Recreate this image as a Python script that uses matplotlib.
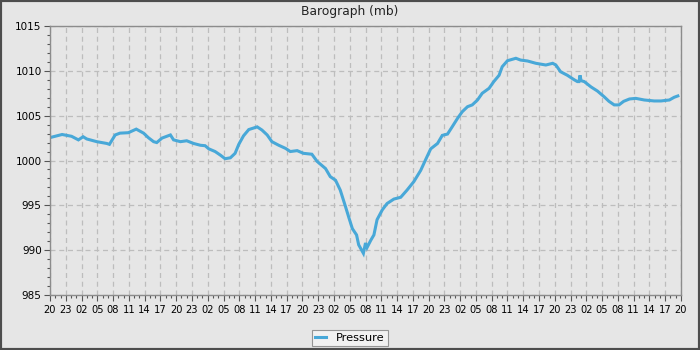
import matplotlib
matplotlib.use("Agg")
import matplotlib.pyplot as plt
from matplotlib.patches import Rectangle

# ---- data (hours since first 20:00 tick, pressure in mb) ----
hours = [0.3, 2.3, 4.1, 5.4, 6.3, 7.0, 8.9, 10.8, 11.3, 12.4, 13.3, 14.9, 16.4,
         17.8, 18.7, 19.7, 20.3, 21.3, 22.9, 23.5, 24.8, 26.0, 27.3, 28.6, 29.5,
         30.2, 31.4, 32.4, 33.3, 34.3, 35.2, 35.9, 36.8, 37.8, 39.4, 40.3, 41.3,
         42.2, 43.5, 44.8, 45.7, 47.0, 48.2, 49.8, 50.8, 52.4, 53.3, 54.3, 55.2,
         56.2, 56.8, 57.5, 58.3, 58.7, 59.6, 60.0, 60.3, 61.0, 61.6, 62.2, 63.2,
         64.1, 65.4, 66.7, 67.9, 69.2, 70.5, 71.4, 72.4, 73.7, 74.6, 75.6, 76.5,
         77.5, 78.4, 79.4, 80.3, 81.3, 82.2, 83.5, 84.4, 85.4, 86.0, 87.0, 88.6,
         89.5, 90.8, 92.4, 94.3, 95.6, 96.2, 97.1, 98.4, 99.7, 100.3, 100.6, 100.8,
         101.0, 101.6, 102.9, 104.1, 105.4, 106.3, 107.3, 108.2, 109.1, 110.2,
         111.4, 113.0, 114.9, 116.2, 117.8, 118.7, 119.4]
pressure = [1002.6, 1002.9, 1002.7, 1002.3, 1002.65, 1002.4, 1002.1, 1001.9, 1001.8,
            1002.85, 1003.05, 1003.1, 1003.5, 1003.05, 1002.55, 1002.1, 1002.0,
            1002.5, 1002.85, 1002.3, 1002.1, 1002.2, 1001.9, 1001.7, 1001.65,
            1001.3, 1001.0, 1000.6, 1000.2, 1000.3, 1000.8, 1001.8, 1002.75,
            1003.45, 1003.75, 1003.4, 1002.85, 1002.1, 1001.7, 1001.35, 1001.0,
            1001.1, 1000.8, 1000.7, 999.9, 999.1, 998.2, 997.8, 996.7, 994.85,
            993.7, 992.4, 991.7, 990.6, 989.65, 990.8, 990.3, 991.1, 991.7, 993.4,
            994.5, 995.2, 995.7, 995.9, 996.7, 997.65, 998.9, 1000.05, 1001.3,
            1001.9, 1002.8, 1002.95, 1003.77, 1004.7, 1005.44, 1006.0, 1006.2,
            1006.75, 1007.5, 1008.05, 1008.8, 1009.5, 1010.46, 1011.13, 1011.4,
            1011.2, 1011.1, 1010.84, 1010.65, 1010.84, 1010.65, 1009.9, 1009.5,
            1009.0, 1008.8, 1008.8, 1009.5, 1008.9, 1008.8, 1008.2, 1007.75,
            1007.1, 1006.6, 1006.2, 1006.2, 1006.6, 1006.86, 1006.93, 1006.75,
            1006.64, 1006.64, 1006.75, 1007.05, 1007.2]

tick_labels = ["20", "23", "02", "05", "08", "11", "14", "17"] * 5 + ["20"]
tick_hours = [3 * i for i in range(len(tick_labels))]
y_ticks = [985, 990, 995, 1000, 1005, 1010, 1015]

bg = "#e6e6e6"
fig = plt.figure(figsize=(7, 3.5), dpi=100, facecolor=bg)
ax = fig.add_axes([50 / 700, 1 - 295 / 350, 631 / 700, 269 / 350], facecolor=bg)

ax.plot(hours, pressure, color="#48a8d8", lw=2.2, label="Pressure",
        solid_joinstyle="miter")

ax.set_xlim(0, 120)
ax.set_ylim(985, 1015)
ax.set_xticks(tick_hours)
ax.set_xticklabels(tick_labels, fontsize=7.1)
ax.set_xticks(range(0, 121), minor=True)
ax.set_yticks(y_ticks)
ax.set_yticklabels([str(v) for v in y_ticks], fontsize=7.5)
ax.set_yticks(range(985, 1016), minor=True)

ax.tick_params(axis="both", which="major", direction="out", color="#555555",
               length=4, width=0.8)
ax.tick_params(axis="both", which="minor", direction="out", color="#555555",
               length=2.2, width=0.8)
ax.tick_params(axis="x", pad=3)
ax.tick_params(axis="y", pad=2)

ax.grid(True, which="major", color="#bdbdbd", linestyle=(0, (4, 3)), lw=0.9)
for s in ax.spines.values():
    s.set_color("#8c8c8c")
    s.set_linewidth(1.0)

fig.text(0.5, 1 - 12 / 350, "Barograph (mb)", ha="center", va="center",
         fontsize=8.8, color="#222222")

leg = fig.legend(loc="center", bbox_to_anchor=(350 / 700, 1 - 338 / 350),
                 fontsize=8.2, frameon=True, fancybox=False, handlelength=0.9,
                 handletextpad=0.9, borderpad=0.3, borderaxespad=0)
leg.get_frame().set_facecolor("#f4f4f4")
leg.get_frame().set_edgecolor("#808080")
leg.get_frame().set_linewidth(0.8)

# figure border
fig.patches.append(Rectangle((0, 0), 1, 1, transform=fig.transFigure,
                             fill=False, edgecolor="#4d4d4d", lw=3,
                             zorder=10))

fig.savefig("out.png", dpi=100, facecolor=bg)
